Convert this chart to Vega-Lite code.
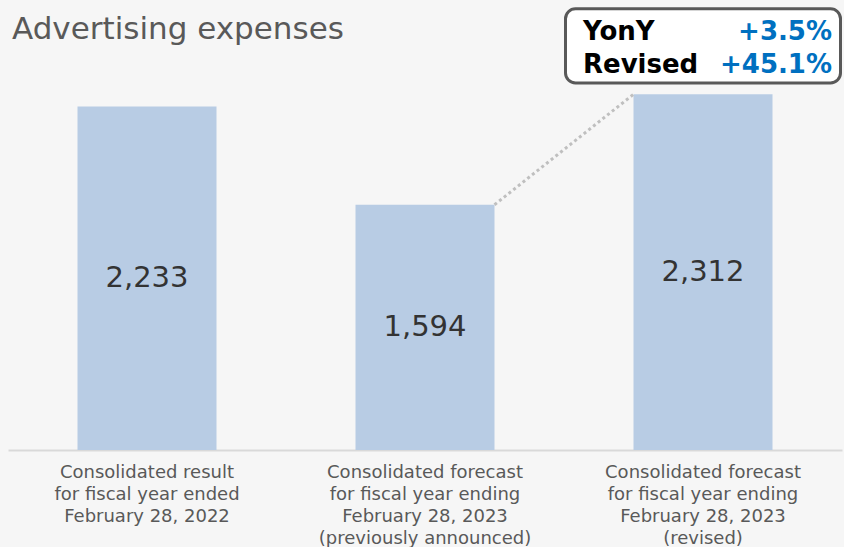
{
  "$schema": "https://vega.github.io/schema/vega-lite/v6.json",
  "width": 834,
  "height": 400,
  "autosize": {"type": "none"},
  "padding": {"left": 8, "top": 50, "right": 2, "bottom": 97},
  "background": "#f6f6f6",
  "title": {
    "text": "Advertising expenses",
    "anchor": "start",
    "frame": "group",
    "font": "DejaVu Sans",
    "fontSize": 31,
    "fontWeight": "normal",
    "color": "#595959",
    "baseline": "alphabetic",
    "dx": 4,
    "dy": 76,
    "offset": 13
  },
  "config": {
    "view": {"stroke": null},
    "font": "DejaVu Sans"
  },
  "datasets": {
    "bars": [
      {"period": "Consolidated result|for fiscal year ended|February 28, 2022", "expenses": 2233},
      {"period": "Consolidated forecast|for fiscal year ending|February 28, 2023|(previously announced)", "expenses": 1594},
      {"period": "Consolidated forecast|for fiscal year ending|February 28, 2023|(revised)", "expenses": 2312}
    ],
    "link": [
      {"from": "Consolidated forecast|for fiscal year ending|February 28, 2023|(previously announced)", "to": "Consolidated forecast|for fiscal year ending|February 28, 2023|(revised)", "v1": 1594, "v2": 2312}
    ],
    "box": [
      {"period": "Consolidated forecast|for fiscal year ending|February 28, 2023|(revised)", "yony": "+3.5%", "revised": "+45.1%"}
    ]
  },
  "encoding": {
    "x": {
      "field": "period",
      "type": "nominal",
      "sort": null,
      "scale": {"paddingInner": 0.5, "paddingOuter": 0.25},
      "axis": {
        "title": null,
        "labelAngle": 0,
        "labelExpr": "split(datum.label, '|')",
        "labelFont": "DejaVu Sans",
        "labelFontSize": 18,
        "labelColor": "#595959",
        "labelLineHeight": 22,
        "labelPadding": 13,
        "labelLimit": 0,
        "ticks": false,
        "domainColor": "#d9d9d9",
        "domainWidth": 2
      }
    }
  },
  "layer": [
    {
      "data": {"name": "bars"},
      "mark": {"type": "bar", "color": "#b8cce4"},
      "encoding": {
        "y": {"field": "expenses", "type": "quantitative", "scale": {"domain": [0, 2565]}, "axis": null}
      }
    },
    {
      "data": {"name": "bars"},
      "mark": {"type": "text", "fontSize": 29, "color": "#333333", "baseline": "middle"},
      "encoding": {
        "y": {"field": "expenses", "type": "quantitative", "stack": "zero", "bandPosition": 0.5},
        "text": {"field": "expenses", "type": "quantitative", "format": ","}
      }
    },
    {
      "data": {"name": "link"},
      "mark": {"type": "rule", "color": "#bfbfbf", "strokeWidth": 3, "strokeDash": [3, 3]},
      "encoding": {
        "x": {"field": "from", "type": "nominal", "bandPosition": 1},
        "x2": {"field": "to", "bandPosition": 0},
        "y": {"field": "v1", "type": "quantitative"},
        "y2": {"field": "v2"}
      }
    },
    {
      "data": {"name": "box"},
      "mark": {"type": "bar", "width": 275, "fill": "#ffffff", "stroke": "#595959", "strokeWidth": 3, "cornerRadius": 10},
      "encoding": {
        "y": {"datum": 2868},
        "y2": {"datum": 2386}
      }
    },
    {
      "data": {"name": "box"},
      "mark": {"type": "text", "fontSize": 26, "fontWeight": "bold", "color": "#000000", "align": "left", "baseline": "alphabetic", "dx": -120},
      "encoding": {"y": {"datum": 2662}, "text": {"value": "YonY"}}
    },
    {
      "data": {"name": "box"},
      "mark": {"type": "text", "fontSize": 26, "fontWeight": "bold", "color": "#000000", "align": "left", "baseline": "alphabetic", "dx": -120},
      "encoding": {"y": {"datum": 2448}, "text": {"value": "Revised"}}
    },
    {
      "data": {"name": "box"},
      "mark": {"type": "text", "fontSize": 26, "fontWeight": "bold", "color": "#0070c0", "align": "right", "baseline": "alphabetic", "dx": 129},
      "encoding": {"y": {"datum": 2662}, "text": {"field": "yony"}}
    },
    {
      "data": {"name": "box"},
      "mark": {"type": "text", "fontSize": 26, "fontWeight": "bold", "color": "#0070c0", "align": "right", "baseline": "alphabetic", "dx": 129},
      "encoding": {"y": {"datum": 2448}, "text": {"field": "revised"}}
    }
  ]
}
